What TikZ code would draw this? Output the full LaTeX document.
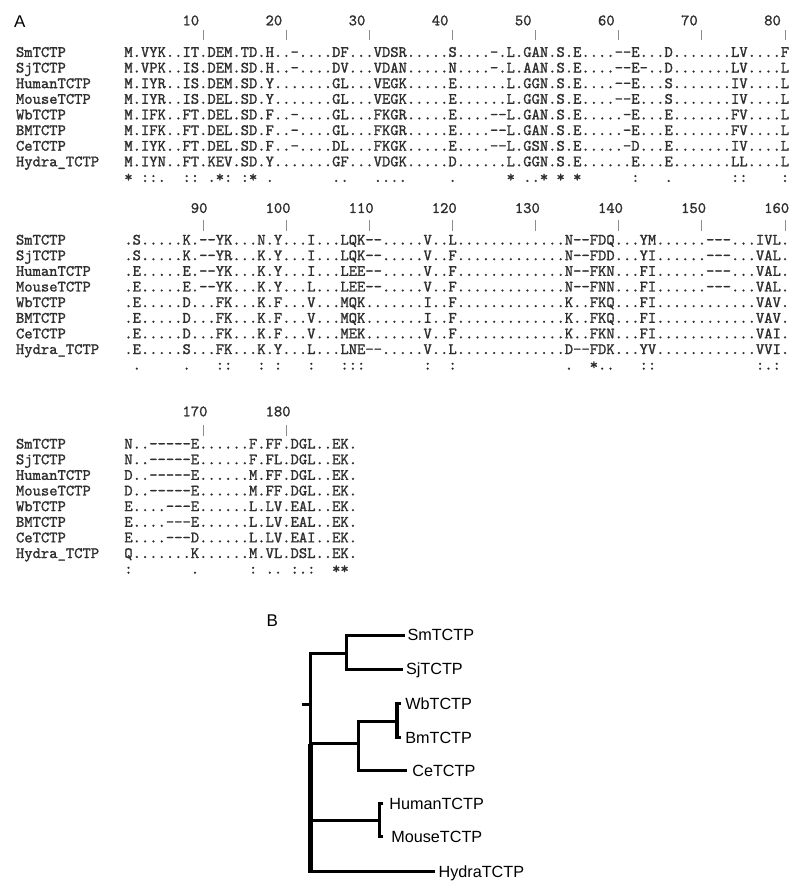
\documentclass[tikz,border=0pt]{standalone}
\usepackage{fontspec}
\setmainfont{Liberation Sans}
\newfontfamily\seqfont{lmmono10-regular}[Extension=.otf, FakeBold=1.3]
\frenchspacing
\newcommand\arow[4]{%
  \node[seq] (n#1) at (16,#2) {#3};
  \node[seq] (s#1) at (124.35,#2) {#4};}
\begin{document}
\begin{tikzpicture}[x=1pt,y=-1pt,
  seq/.style={font=\seqfont\fontsize{15.83}{18}\selectfont, anchor=base west, inner sep=0pt, outer sep=0pt, text=black!82},
  num/.style={font=\seqfont\fontsize{15.83}{18}\selectfont, anchor=base east, inner sep=0pt, outer sep=0pt, text=black!82},
  tickmark/.style={draw=black!45, line width=0.9pt},
  panel/.style={font=\fontsize{17}{20}\selectfont, anchor=base west, inner sep=0pt},
  leaf/.style={font=\fontsize{16.2}{19}\selectfont, anchor=base west, inner sep=0pt, outer sep=0pt},
  branch/.style={line width=3pt, line join=miter},
  trunk/.style={line width=4.2pt},
]
\useasboundingbox[fill=white] (0,0) rectangle (800,883);

% ---------------- Panel A ----------------
\node[panel] (labA) at (14,27.8) {A};

% block 1
\foreach \t in {10,20,30,40,50,60,70,80}{
  \node[num] (k1-\t) at ({124.35+(\t-1)*8.31},25.3) {\t};
  \coordinate (t1a-\t) at ({128.5+(\t-1)*8.31},30);
  \coordinate (t1b-\t) at ({128.5+(\t-1)*8.31},40.5);
  \draw[tickmark] (t1a-\t) -- (t1b-\t);
}
\arow{1-0}{56.9}{SmTCTP}{M.VYK..IT.DEM.TD.H..-....DF...VDSR.....S....-.L.GAN.S.E....--E...D.......LV....F}
\arow{1-1}{72.53}{SjTCTP}{M.VPK..IS.DEM.SD.H..-....DV...VDAN.....N....-.L.AAN.S.E....--E-..D.......LV....L}
\arow{1-2}{88.16}{HumanTCTP}{M.IYR..IS.DEM.SD.Y.......GL...VEGK.....E......L.GGN.S.E....--E...S.......IV....L}
\arow{1-3}{103.79}{MouseTCTP}{M.IYR..IS.DEL.SD.Y.......GL...VEGK.....E......L.GGN.S.E....--E...S.......IV....L}
\arow{1-4}{119.42}{WbTCTP}{M.IFK..FT.DEL.SD.F..-....GL...FKGR.....E....--L.GAN.S.E.....-E...E.......FV....L}
\arow{1-5}{135.05}{BMTCTP}{M.IFK..FT.DEL.SD.F..-....GL...FKGR.....E....--L.GAN.S.E.....-E...E.......FV....L}
\arow{1-6}{150.68}{CeTCTP}{M.IYK..FT.DEL.SD.F..-....DL...FKGK.....E....--L.GSN.S.E.....-D...E.......IV....L}
\arow{1-7}{166.31}{Hydra\_TCTP}{M.IYN..FT.KEV.SD.Y.......GF...VDGK.....D......L.GGN.S.E......E...E.......LL....L}
\node[seq] (c1) at (124.35,181.94) {*~::.~~::~.*:~:*~.~~~~~~~..~~~....~~~~~.~~~~~~*~..*~*~*~~~~~~:~~~.~~~~~~~::~~~~:};

% block 2
\foreach \t in {10,20,30,40,50,60,70,80}{
  \pgfmathtruncatemacro\lab{\t+80}
  \node[num] (k2-\t) at ({124.35+\t*8.31},212.9) {\lab};
  \coordinate (t2a-\t) at ({128.5+(\t-1)*8.31},220);
  \coordinate (t2b-\t) at ({128.5+(\t-1)*8.31},230.5);
  \draw[tickmark] (t2a-\t) -- (t2b-\t);
}
\arow{2-0}{244.6}{SmTCTP}{.S.....K.--YK...N.Y...I...LQK--.....V..L.............N--FDQ...YM......---...IVL.}
\arow{2-1}{260.23}{SjTCTP}{.S.....K.--YR...K.Y...I...LQK--.....V..F.............N--FDD...YI......---...VAL.}
\arow{2-2}{275.86}{HumanTCTP}{.E.....E.--YK...K.Y...I...LEE--.....V..F.............N--FKN...FI......---...VAL.}
\arow{2-3}{291.49}{MouseTCTP}{.E.....E.--YK...K.Y...L...LEE--.....V..F.............N--FNN...FI......---...VAL.}
\arow{2-4}{307.12}{WbTCTP}{.E.....D...FK...K.F...V...MQK.......I..F.............K..FKQ...FI............VAV.}
\arow{2-5}{322.75}{BMTCTP}{.E.....D...FK...K.F...V...MQK.......I..F.............K..FKQ...FI............VAV.}
\arow{2-6}{338.38}{CeTCTP}{.E.....D...FK...K.F...V...MEK.......V..F.............K..FKN...FI............VAI.}
\arow{2-7}{354.01}{Hydra\_TCTP}{.E.....S...FK...K.Y...L...LNE--.....V..L.............D--FDK...YV............VVI.}
\node[seq] (c2) at (124.35,369.64) {~.~~~~~.~~~::~~~:~:~~~:~~~:::~~~~~~~:~~:~~~~~~~~~~~~~.~~*..~~~::~~~~~~~~~~~~:.:};

% block 3
\foreach \t in {10,20}{
  \pgfmathtruncatemacro\lab{\t+160}
  \node[num] (k3-\t) at ({124.35+\t*8.31},416.3) {\lab};
  \coordinate (t3a-\t) at ({128.5+(\t-1)*8.31},425);
  \coordinate (t3b-\t) at ({128.5+(\t-1)*8.31},435.5);
  \draw[tickmark] (t3a-\t) -- (t3b-\t);
}
\arow{3-0}{448.6}{SmTCTP}{N..-----E......F.FF.DGL..EK.}
\arow{3-1}{464.23}{SjTCTP}{N..-----E......F.FL.DGL..EK.}
\arow{3-2}{479.86}{HumanTCTP}{D..-----E......M.FF.DGL..EK.}
\arow{3-3}{495.49}{MouseTCTP}{D..-----E......M.FF.DGL..EK.}
\arow{3-4}{511.12}{WbTCTP}{E....---E......L.LV.EAL..EK.}
\arow{3-5}{526.75}{BMTCTP}{E....---E......L.LV.EAL..EK.}
\arow{3-6}{542.38}{CeTCTP}{E....---D......L.LV.EAI..EK.}
\arow{3-7}{558.01}{Hydra\_TCTP}{Q.......K......M.VL.DSL..EK.}
\node[seq] (c3) at (124.35,573.64) {:~~~~~~~.~~~~~~:~..~:.:~~**};

% ---------------- Panel B ----------------
\node[panel] (labB) at (266.5,626.3) {B};

\node[leaf] (Sm)    at (407.5,640.8) {SmTCTP};
\node[leaf] (Sj)    at (406.0,674.8) {SjTCTP};
\node[leaf] (Wb)    at (405.3,709.1) {WbTCTP};
\node[leaf] (Bm)    at (405.3,743.5) {BmTCTP};
\node[leaf] (Ce)    at (412.3,776.5) {CeTCTP};
\node[leaf] (Hu)    at (389.3,809.1) {HumanTCTP};
\node[leaf] (Mo)    at (391.3,842.5) {MouseTCTP};
\node[leaf] (Hy)    at (438.6,877.5) {HydraTCTP};

% tree coordinates
\coordinate (stub) at (301.7,704);
\coordinate (rootv) at (310.5,704);
\coordinate (top) at (310.5,653.3);
\coordinate (mid) at (310.5,743.5);
\coordinate (low) at (310.5,820.5);
\coordinate (bot) at (310.5,873.4);
\coordinate (botc) at (310.5,871.7);
\coordinate (sa) at (346.7,653.3);
\coordinate (sa1) at (346.7,635);
\coordinate (sa2) at (346.7,669.3);
\coordinate (eSm) at (405,635);
\coordinate (eSj) at (403.3,669.3);
\coordinate (wa) at (358.3,743.5);
\coordinate (wa1) at (358.3,721);
\coordinate (wa2) at (358.3,770.7);
\coordinate (wb) at (396.7,721);
\coordinate (wb1) at (396.7,703.3);
\coordinate (wb2) at (396.7,737.7);
\coordinate (eWb) at (400.5,703.3);
\coordinate (eBm) at (400.5,737.7);
\coordinate (eCe) at (406.7,770.7);
\coordinate (ha) at (379.3,820.5);
\coordinate (ha1) at (379.3,803.3);
\coordinate (ha2) at (379.3,836.7);
\coordinate (eHu) at (383.3,803.3);
\coordinate (eMo) at (383.3,836.7);
\coordinate (eHy) at (435,871.7);

\draw[branch] (stub) -- (rootv);
\draw[branch] (sa) -- (top) -- (mid);
\draw[trunk] (mid) -- (bot);
\draw[branch] (eSm) -- (sa1) -- (sa2) -- (eSj);
\draw[branch] (mid) -- (wa);
\draw[branch] (wb) -- (wa1) -- (wa2) -- (eCe);
\draw[branch] (eWb) -- (wb1) -- (wb2) -- (eBm);
\draw[line width=3.6pt] (wb1) -- (wb2);
\draw[branch] (low) -- (ha);
\draw[branch] (eHu) -- (ha1) -- (ha2) -- (eMo);
\draw[line width=3.6pt] (ha1) -- (ha2);
\draw[branch] (botc) -- (eHy);
\end{tikzpicture}
\end{document}
